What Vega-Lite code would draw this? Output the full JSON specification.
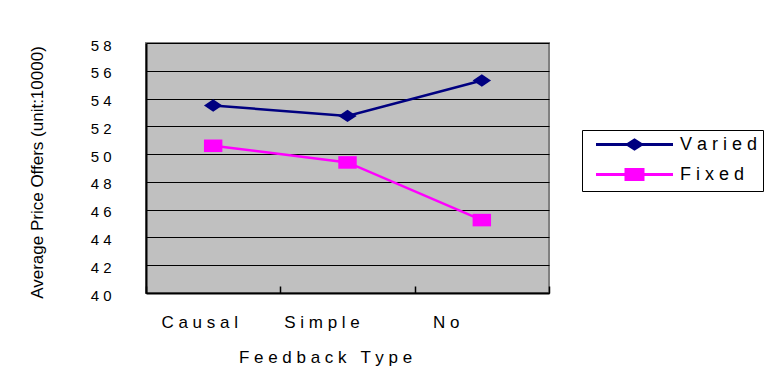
{
  "$schema": "https://vega.github.io/schema/vega-lite/v6.json",
  "width": 403,
  "height": 250,
  "autosize": "none",
  "padding": {"left": 146, "top": 43, "right": 227, "bottom": 82},
  "background": "white",
  "config": {
    "font": "Liberation Sans",
    "view": {"fill": "#C0C0C0", "stroke": "#808080", "strokeWidth": 2}
  },
  "data": {
    "values": [
      {"feedback": "Causal", "series": "Varied", "offer": 53.5},
      {"feedback": "Simple", "series": "Varied", "offer": 52.75},
      {"feedback": "No", "series": "Varied", "offer": 55.3},
      {"feedback": "Causal", "series": "Fixed", "offer": 50.6},
      {"feedback": "Simple", "series": "Fixed", "offer": 49.4},
      {"feedback": "No", "series": "Fixed", "offer": 45.25}
    ]
  },
  "encoding": {
    "x": {
      "field": "feedback",
      "type": "nominal",
      "sort": ["Causal", "Simple", "No"],
      "scale": {"paddingInner": 0, "paddingOuter": 0},
      "axis": {
        "title": "F e e d b a c k \u00a0 T y p e",
        "titleFontSize": 17,
        "titleFontWeight": "normal",
        "titleColor": "black",
        "titleX": 179,
        "titleY": 69,
        "titleBaseline": "alphabetic",
        "labelExpr": "join(split(datum.label, ''), ' ')",
        "labelFontSize": 17,
        "labelColor": "black",
        "labelAngle": 0,
        "labelBaseline": "alphabetic",
        "labelPadding": 41,
        "labelOffset": {"expr": "datum.value === 'Causal' ? -14 : datum.value === 'Simple' ? -26 : -36"},
        "domainColor": "black",
        "domainWidth": 2,
        "tickBand": "extent",
        "tickSize": -7,
        "tickColor": "black",
        "tickWidth": 1.5,
        "grid": false
      }
    },
    "y": {
      "field": "offer",
      "type": "quantitative",
      "scale": {"domain": [40, 58], "nice": false, "zero": false},
      "axis": {
        "title": "Average Price Offers (unit:10000)",
        "titleFontSize": 17,
        "titleFontWeight": "normal",
        "titleColor": "black",
        "titleX": -100,
        "titleY": 129,
        "titleAlign": "center",
        "titleBaseline": "bottom",
        "values": [40, 42, 44, 46, 48, 50, 52, 54, 56, 58],
        "labelExpr": "join(split(datum.label, ''), ' ')",
        "labelFontSize": 15,
        "labelColor": "black",
        "labelPadding": 35,
        "labelBaseline": "middle",
        "labelOffset": 2,
        "ticks": false,
        "domainColor": "black",
        "domainWidth": 2,
        "grid": true,
        "gridColor": "black",
        "gridWidth": 1
      }
    },
    "color": {
      "field": "series",
      "type": "nominal",
      "scale": {"domain": ["Varied", "Fixed"], "range": ["#000080", "#FF00FF"]},
      "legend": {
        "orient": "none",
        "legendX": 436,
        "legendY": 87,
        "title": null,
        "strokeColor": "black",
        "fillColor": "white",
        "padding": 5.5,
        "labelFontSize": 18,
        "labelColor": "black",
        "labelOffset": 74.5,
        "rowPadding": 8,
        "symbolSize": 100,
        "symbolStrokeWidth": 3,
        "labelExpr": "join(split(datum.label, ''), ' ') + '\u00a0\u00a0\u00a0\u00a0\u00a0\u00a0\u00a0\u00a0\u00a0\u00a0\u00a0\u00a0'",
        "encode": {
          "symbols": {
            "update": {
              "shape": {"signal": "datum.value === 'Varied' ? 'M-0.1,0H15.3M6.2,0L7.6,-0.9L9.0,0L7.6,0.9Z' : 'M-0.1,0H15.3M5.9,-1H9.3V1H5.9Z'"},
              "fill": {"scale": "color", "field": "value"},
              "stroke": {"scale": "color", "field": "value"},
              "strokeWidth": {"value": 3},
              "opacity": {"value": 1},
              "fillOpacity": {"value": 1},
              "strokeOpacity": {"value": 1}
            }
          }
        }
      }
    }
  },
  "layer": [
    {"mark": {"type": "line", "strokeWidth": 2.5}},
    {
      "transform": [{"filter": "datum.series === 'Varied'"}],
      "mark": {"type": "point", "filled": true, "opacity": 1, "size": 340, "shape": "M-1,0L0,-0.67L1,0L0,0.67Z"}
    },
    {
      "transform": [{"filter": "datum.series === 'Fixed'"}],
      "mark": {"type": "point", "filled": true, "opacity": 1, "size": 340, "shape": "M-1,-0.68H1V0.68H-1Z"}
    }
  ]
}
